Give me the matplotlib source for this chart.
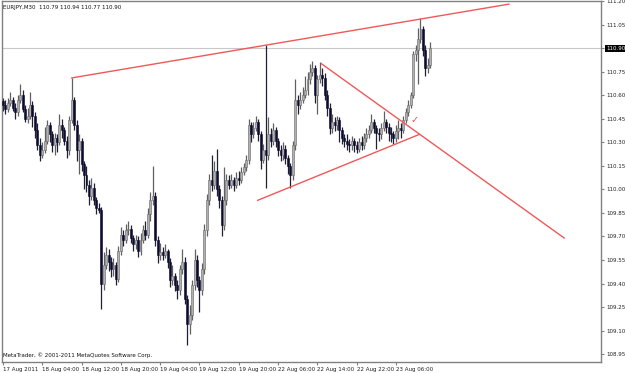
import matplotlib
matplotlib.use("Agg")
import matplotlib.pyplot as plt

# EURJPY M30 bars (open of each bar = previous close)
symbol = "EURJPY,M30"
first_open = 110.56
closes = [
    110.54, 110.51, 110.55, 110.57, 110.52, 110.49, 110.57, 110.60, 110.51, 110.45,
    110.47, 110.54, 110.47, 110.38, 110.28, 110.22, 110.25, 110.31, 110.41, 110.35,
    110.28, 110.33, 110.30, 110.41, 110.38, 110.31, 110.25, 110.44, 110.57, 110.41,
    110.25, 110.31, 110.16, 110.09, 110.03, 109.96, 110.01, 109.93, 109.88, 109.87,
    109.40, 109.52, 109.58, 109.54, 109.49, 109.52, 109.43, 109.61, 109.71, 109.68,
    109.74, 109.75, 109.69, 109.65, 109.68, 109.61, 109.68, 109.74, 109.71, 109.84,
    109.93, 109.96, 109.68, 109.58, 109.60, 109.58, 109.61, 109.54, 109.42, 109.45,
    109.39, 109.36, 109.49, 109.54, 109.30, 109.14, 109.20, 109.39, 109.55, 109.42,
    109.36, 109.49, 109.74, 109.93, 110.06, 110.03, 110.12, 110.00, 109.93, 109.77,
    109.93, 110.06, 110.03, 110.06, 110.03, 110.07, 110.06, 110.11, 110.14, 110.19,
    110.41, 110.35, 110.39, 110.43, 110.35, 110.19, 110.25, 110.22, 110.35, 110.31,
    110.38, 110.31, 110.25, 110.22, 110.26, 110.20, 110.15, 110.09, 110.28, 110.57,
    110.54, 110.57, 110.60, 110.63, 110.70, 110.75, 110.77, 110.60, 110.70, 110.73,
    110.71, 110.60, 110.52, 110.39, 110.43, 110.41, 110.44, 110.38, 110.33, 110.31,
    110.29, 110.28, 110.31, 110.28, 110.26, 110.30, 110.28, 110.33, 110.35, 110.38,
    110.43, 110.39, 110.36, 110.35, 110.39, 110.43, 110.40, 110.36, 110.35, 110.33,
    110.37, 110.39, 110.38, 110.44, 110.49, 110.54, 110.60, 110.86, 110.89, 110.96,
    111.02, 110.89, 110.77, 110.79, 110.90,
]
highs = [
    110.58, 110.57, 110.58, 110.62, 110.59, 110.55, 110.60, 110.67, 110.63, 110.54,
    110.52, 110.62, 110.56, 110.49, 110.42, 110.33, 110.30, 110.40, 110.44, 110.43,
    110.37, 110.36, 110.35, 110.48, 110.45, 110.40, 110.34, 110.47, 110.71, 110.59,
    110.44, 110.35, 110.33, 110.18, 110.15, 110.06, 110.07, 110.04, 109.95, 109.91,
    109.89, 109.60, 109.63, 109.62, 109.57, 109.56, 109.54, 109.64, 109.76, 109.74,
    109.78, 109.80, 109.77, 109.71, 109.71, 109.70, 109.72, 109.77, 109.80, 109.88,
    109.98, 110.15, 109.98, 109.70, 109.66, 109.63, 109.65, 109.62, 109.56, 109.52,
    109.47, 109.42, 109.52, 109.62, 109.57, 109.33, 109.26, 109.42, 109.62, 109.58,
    109.45, 109.53, 109.78, 109.97, 110.10, 110.22, 110.18, 110.26, 110.03, 109.96,
    110.14, 110.10, 110.09, 110.10, 110.08, 110.11, 110.12, 110.14, 110.17, 110.22,
    110.45, 110.43, 110.43, 110.47, 110.45, 110.37, 110.29, 110.92, 110.46, 110.39,
    110.42, 110.40, 110.33, 110.28, 110.30, 110.28, 110.22, 110.17, 110.31, 110.70,
    110.60, 110.62, 110.65, 110.72, 110.75, 110.80, 110.82, 110.79, 110.73, 110.81,
    110.77, 110.74, 110.63, 110.55, 110.48, 110.46, 110.47, 110.46, 110.40, 110.35,
    110.35, 110.32, 110.34, 110.33, 110.31, 110.33, 110.34, 110.36, 110.39, 110.41,
    110.48, 110.45, 110.41, 110.39, 110.42, 110.50, 110.45, 110.42, 110.40, 110.37,
    110.41, 110.44, 110.42, 110.47, 110.52, 110.57, 110.62, 110.88, 110.92, 111.03,
    111.09, 111.04, 110.92, 110.84, 110.94,
]
lows = [
    110.50, 110.48, 110.49, 110.53, 110.50, 110.45, 110.47, 110.55, 110.49, 110.43,
    110.42, 110.45, 110.40, 110.33, 110.25, 110.18, 110.20, 110.23, 110.29, 110.30,
    110.24, 110.22, 110.24, 110.28, 110.33, 110.28, 110.20, 110.22, 110.42, 110.38,
    110.18, 110.10, 110.12, 110.00, 109.98, 109.90, 109.93, 109.90, 109.84, 109.85,
    109.24, 109.36, 109.49, 109.48, 109.44, 109.45, 109.39, 109.41, 109.58, 109.64,
    109.66, 109.71, 109.66, 109.61, 109.62, 109.57, 109.58, 109.66, 109.68, 109.69,
    109.80, 109.90, 109.64, 109.53, 109.55, 109.55, 109.56, 109.50, 109.38, 109.39,
    109.35, 109.30, 109.33, 109.46, 109.27, 109.01, 109.08, 109.17, 109.36, 109.38,
    109.22, 109.33, 109.46, 109.70, 109.90, 109.99, 110.00, 109.96, 109.88, 109.70,
    109.74, 109.90, 110.00, 110.01, 109.99, 110.01, 110.03, 110.04, 110.09, 110.12,
    110.16, 110.30, 110.33, 110.37, 110.31, 110.13, 110.17, 110.01, 110.19, 110.27,
    110.28, 110.27, 110.21, 110.18, 110.19, 110.16, 110.10, 110.01, 110.06, 110.25,
    110.48, 110.51, 110.55, 110.58, 110.60, 110.67, 110.72, 110.55, 110.48, 110.68,
    110.66, 110.57, 110.47, 110.35, 110.36, 110.37, 110.38, 110.30, 110.29, 110.27,
    110.25, 110.24, 110.25, 110.24, 110.23, 110.24, 110.25, 110.26, 110.30, 110.33,
    110.36, 110.36, 110.26, 110.31, 110.32, 110.37, 110.36, 110.31, 110.30, 110.29,
    110.30, 110.32, 110.33, 110.36, 110.42, 110.47, 110.52, 110.58, 110.82, 110.67,
    110.93, 110.85, 110.72, 110.74, 110.77,
]

time_label_bars = [0, 16, 32, 48, 64, 80, 96, 112, 128, 144, 160]
time_labels = ["17 Aug 2011", "18 Aug 04:00", "18 Aug 12:00", "18 Aug 20:00",
               "19 Aug 04:00", "19 Aug 12:00", "19 Aug 20:00", "22 Aug 06:00",
               "22 Aug 14:00", "22 Aug 22:00", "23 Aug 06:00"]
price_ticks = [108.95, 109.10, 109.25, 109.40, 109.55, 109.70, 109.85, 110.00,
               110.15, 110.30, 110.45, 110.60, 110.75, 110.90, 111.05, 111.20]
bid_price = 110.90

# trend lines drawn on the chart: (bar, price) end points
upper_line = ([28, 206], [110.71, 111.18])
falling_line = ([129.7, 228.5], [110.80, 109.69])
rising_line = ([103.7, 169.5], [109.93, 110.35])
check_mark = (167.6, 110.44)

opens = [first_open] + closes[:-1]
font = "DejaVu Sans"
fs = 4.0

fig = plt.figure(figsize=(6.25, 3.73), dpi=100)
ax = fig.add_axes([2 / 625, 11 / 373, 599 / 625, 361 / 373])

# candles
for i, (o, h, l, c) in enumerate(zip(opens, highs, lows, closes)):
    bull = c >= o
    ax.vlines(i, l, h, color="#606060" if bull else "#202030", lw=0.9, zorder=2)
    bottom = min(o, c)
    height = max(abs(c - o), 0.004)
    ax.bar(i, height, bottom=bottom, width=0.8,
           color="#b0b0b0" if bull else "#0c0c30",
           edgecolor="#6a6a6a" if bull else "#0c0c30", lw=0.4, zorder=3)

ax.axhline(bid_price, color="#c8c8c8", lw=0.8, zorder=1)

for xs, ys in (upper_line, falling_line, rising_line):
    ax.plot(xs, ys, color="#f05858", lw=1.0, zorder=4)
ax.text(check_mark[0], check_mark[1], "\u2713", color="#f04848", fontsize=7,
        fontweight="bold", ha="center", va="center", zorder=5)

ax.set_xlim(-0.4, 243.5)
ax.set_ylim(108.90, 111.20)

ax.yaxis.tick_right()
ax.set_yticks(price_ticks)
ax.set_yticklabels([f"{p:.2f}" for p in price_ticks], family=font, fontsize=fs)
ax.tick_params(axis="y", length=2, pad=1.5, color="#808080", labelcolor="#202020")
for lbl, p in zip(ax.get_yticklabels(), price_ticks):
    if abs(p - bid_price) < 1e-6:
        lbl.set_color("white")
        lbl.set_bbox(dict(facecolor="black", edgecolor="none", pad=0.5))

ax.set_xticks(time_label_bars)
ax.set_xticklabels(time_labels, family=font, fontsize=fs, ha="left")
ax.tick_params(axis="x", length=2, pad=1.5, color="#808080", labelcolor="#202020")

for sp in ax.spines.values():
    sp.set_color("#808080")
    sp.set_linewidth(1.0)

ax.text(0.002, 0.99, f"{symbol}  110.79 110.94 110.77 110.90", transform=ax.transAxes,
        family=font, fontsize=fs, va="top", ha="left", color="#101010")
ax.text(0.002, 0.012, "MetaTrader, \u00a9 2001-2011 MetaQuotes Software Corp.",
        transform=ax.transAxes, family=font, fontsize=fs, va="bottom", ha="left",
        color="#101010")

fig.savefig("out.png", dpi=100)
